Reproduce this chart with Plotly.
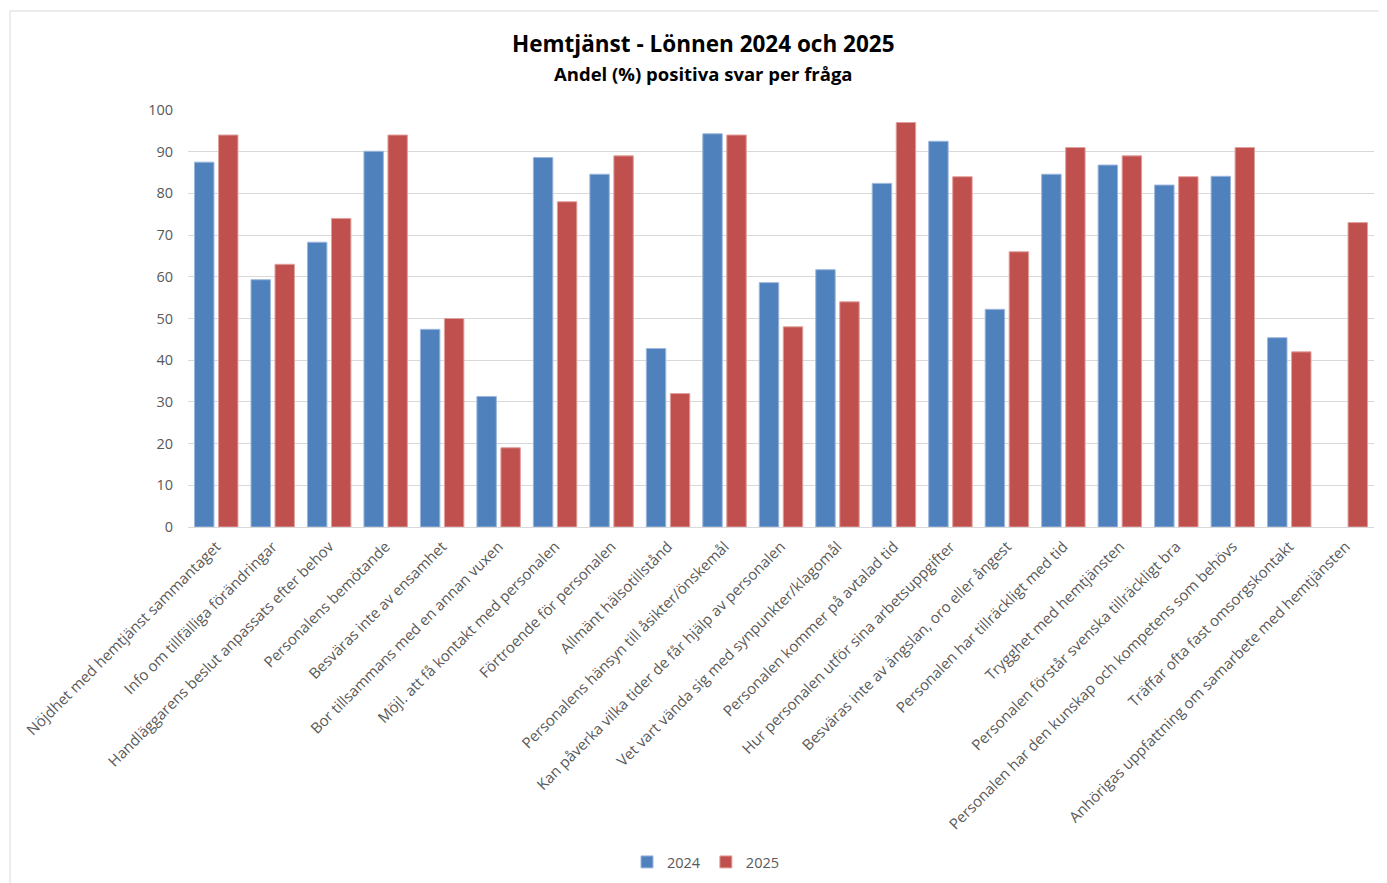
import plotly.graph_objects as go

categories = [
    "Nöjdhet med hemtjänst sammantaget",
    "Info om tillfälliga förändringar",
    "Handläggarens beslut anpassats efter behov",
    "Personalens bemötande",
    "Besväras inte av ensamhet",
    "Bor tillsammans med en annan vuxen",
    "Möjl. att få kontakt med personalen",
    "Förtroende för personalen",
    "Allmänt hälsotillstånd",
    "Personalens hänsyn till åsikter/önskemål",
    "Kan påverka vilka tider de får hjälp av personalen",
    "Vet vart vända sig med synpunkter/klagomål",
    "Personalen kommer på avtalad tid",
    "Hur personalen utför sina arbetsuppgifter",
    "Besväras inte av ängslan, oro eller ångest",
    "Personalen har tillräckligt med tid",
    "Trygghet med hemtjänsten",
    "Personalen förstår svenska tillräckligt bra",
    "Personalen har den kunskap och kompetens som behövs",
    "Träffar ofta fast omsorgskontakt",
    "Anhörigas uppfattning om samarbete med hemtjänsten",
]
values_2024 = [87.5, 59.3, 68.3, 90.1, 47.4, 31.3, 88.6, 84.6, 42.8, 94.3, 58.6,
               61.7, 82.4, 92.5, 52.2, 84.6, 86.8, 82.0, 84.1, 45.4, None]
values_2025 = [94, 63, 74, 94, 50, 19, 78, 89, 32, 94, 48,
               54, 97, 84, 66, 91, 89, 84, 91, 42, 73]
series_names = ["2024", "2025"]
y_ticks = [0, 10, 20, 30, 40, 50, 60, 70, 80, 90, 100]

OFF = 8  # page body margin
W, H = 1387 - OFF, 883 - OFF
# screen-space targets: plot left 188, right 1374, top 110, bottom 527
ml, mt = 188 - OFF, 110 - OFF
pr, pb = 1374 - OFF, 527 - OFF
mr, mb = W - pr, H - pb
pw, ph = pr - ml, pb - mt

def px_x(x):  # screen x -> paper
    return (x - OFF - ml) / pw

def px_y(y):  # screen y -> paper
    return (pb - (y - OFF)) / ph

fig = go.Figure()
fig.add_trace(go.Bar(x=categories, y=values_2024, name=series_names[0],
                     marker=dict(color="#4F81BD", line=dict(color="#9DB7DC", width=1))))
fig.add_trace(go.Bar(x=categories, y=values_2025, name=series_names[1],
                     marker=dict(color="#C0504D", line=dict(color="#E0A09E", width=1))))

font_family = "Open Sans, Liberation Sans, sans-serif"

fig.update_layout(
    width=W, height=H,
    margin=dict(l=ml, r=mr, t=mt, b=mb, autoexpand=False),
    paper_bgcolor="white", plot_bgcolor="white",
    barmode="group", bargap=0.15, bargroupgap=0.19,
    font=dict(family=font_family, color="#595959"),
    showlegend=True,
    legend=dict(orientation="h", x=px_x(706), y=px_y(862), xanchor="center", yanchor="middle",
                font=dict(size=14.5, color="#595959"), itemwidth=30,
                traceorder="normal"),
    xaxis=dict(tickangle=-45, tickfont=dict(size=15, color="#595959"),
               showline=True, linecolor="#D9D9D9", linewidth=1, ticks="", automargin=False,
               ticklabelstandoff=4),
    yaxis=dict(range=[0, 100], tickvals=y_ticks, tickfont=dict(size=14.5, color="#595959"),
               showgrid=True, gridcolor="#D9D9D9", gridwidth=1, zeroline=False,
               showline=False, ticks="", ticklabelstandoff=14, automargin=False),
    shapes=[dict(type="rect", xref="paper", yref="paper",
                 x0=px_x(10), x1=px_x(1400), y0=px_y(900), y1=px_y(11),
                 line=dict(color="#D9D9D9", width=1), fillcolor="rgba(0,0,0,0)", layer="below")],
    annotations=[
        dict(text="<b>Hemtjänst - Lönnen 2024 och 2025</b>", xref="paper", yref="paper",
             x=px_x(703), y=px_y(43), xanchor="center", yanchor="middle", showarrow=False,
             font=dict(size=22.5, color="black", family=font_family)),
        dict(text="<b>Andel (%) positiva svar per fråga</b>", xref="paper", yref="paper",
             x=px_x(703), y=px_y(73), xanchor="center", yanchor="middle", showarrow=False,
             font=dict(size=18.5, color="black", family=font_family)),
    ],
)

fig.write_html("out.html")
